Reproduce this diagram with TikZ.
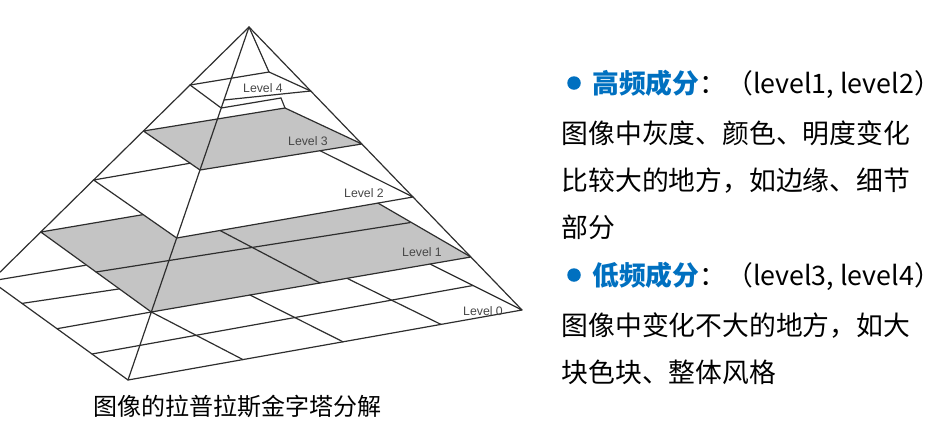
\documentclass[tikz,border=0pt]{standalone}
\usepackage{fontspec}
\setmainfont{Liberation Sans}
\newfontfamily\cjk{Noto Sans CJK SC}
\definecolor{myblue}{HTML}{0070C0}
\begin{document}
\begin{tikzpicture}[x=1pt,y=-1pt,
  edge/.style={draw=black!82, line width=1.2pt, line join=round, line cap=round},
  shaded/.style={fill=black!23},
  lvl/.style={font=\fontsize{12.3}{13}\selectfont, text=black!72, inner sep=0pt},
  body/.style={font=\cjk\fontsize{26.8}{28}\selectfont, anchor=base west, inner sep=0pt, text=black},
  dot/.style={circle, fill=myblue, minimum size=13.5pt, inner sep=0pt}]
\useasboundingbox (0,0) rectangle (940,429);
% ---------- coordinates ----------
\coordinate (A) at (249,27);
\coordinate (F) at (128,380);
\coordinate (R) at (522,310);
\coordinate (L) at (-9,281);
% level 4
\coordinate (L4) at (190.1,85);
\coordinate (B4) at (269,72);
\coordinate (R4) at (310.7,91);
\coordinate (F4) at (221.2,108);
\coordinate (E4) at (224,100);
\coordinate (K4) at (281,98);
% level 3
\coordinate (L3) at (143.4,131);
\coordinate (B3) at (285,108);
\coordinate (R3) at (361.9,144);
\coordinate (F3) at (200,170);
% level 2
\coordinate (L2) at (93.6,180);
\coordinate (F2) at (176.7,238);
\coordinate (R2) at (413,197);
\coordinate (M2a) at (190.2,163.2);
\coordinate (M2b) at (320,150.7);
% level 1
\coordinate (L1) at (40.8,232);
\coordinate (F1) at (151.3,312);
\coordinate (R1) at (470.9,257);
\coordinate (P1) at (378,203.1);
\coordinate (P2) at (143.2,214.6);
\coordinate (U1a) at (96,272);
\coordinate (U1b) at (410,222.6);
\coordinate (V1a) at (320,283);
\coordinate (V1b) at (220,230.5);
% level 0
\coordinate (Q1) at (85.3,265.3);
\coordinate (Q2) at (430.1,264);
\coordinate (Ba1) at (22,303.4);
\coordinate (Bb1) at (119.3,288.9);
\coordinate (Ba2) at (57,328.7);
\coordinate (Ba3) at (92,354);
\coordinate (Bb3) at (473,285.5);
\coordinate (Bc1) at (243,359.6);
\coordinate (Bd2) at (250,295);
\coordinate (Bc2) at (343,341.8);
\coordinate (Bd3) at (347,278.3);
\coordinate (Bc3) at (441,324.4);
% ---------- pyramid ----------
\begin{scope}
\clip (0,0) rectangle (545,429);
\fill[shaded] (L3) -- (B3) -- (R3) -- (F3) -- cycle;
\fill[shaded] (L1) -- (F1) -- (R1) -- (P1) -- (F2) -- (P2) -- cycle;
% base
\draw[edge] (Q1) -- (L) -- (F) -- (R) -- (Q2);
\draw[edge] (Ba1) -- (Bb1);
\draw[edge] (Ba2) -- (F1);
\draw[edge] (Ba3) -- (Bb3);
\draw[edge] (F1) -- (Bc1);
\draw[edge] (Bd2) -- (Bc2);
\draw[edge] (Bd3) -- (Bc3);
% level 1
\draw[edge] (P2) -- (L1) -- (F1) -- (R1) -- (P1);
\draw[edge] (U1a) -- (U1b);
\draw[edge] (V1a) -- (V1b);
% level 2
\draw[edge] (M2a) -- (L2) -- (F2) -- (R2) -- (M2b);
% level 3
\draw[edge] (L3) -- (B3) -- (R3) -- (F3) -- cycle;
% level 4
\draw[edge] (L4) -- (B4) -- (R4);
\draw[edge] (L4) -- (F4) -- (K4);
\draw[edge] (E4) -- (R4);
% edges
\draw[edge] (A) -- (B4);
\draw[edge] (K4) -- (B3);
\draw[edge] (A) -- (L);
\draw[edge] (A) -- (F);
\draw[edge] (A) -- (R);
\end{scope}
% labels
\node[lvl] (t4) at (263,88) {Level 4};
\node[lvl] (t3) at (308,141) {Level 3};
\node[lvl] (t2) at (364,193) {Level 2};
\node[lvl] (t1) at (422,252) {Level 1};
\node[lvl] (t0) at (483,311) {Level 0};
% caption
\node[font=\cjk\fontsize{24}{26}\selectfont, anchor=base, inner sep=0pt] (cap) at (237.5,415) {图像的拉普拉斯金字塔分解};
% right text
\node[dot] (d1) at (574,83) {};
\node[body] (h1) at (592,93) {{\bfseries\color{myblue}高频成分}：（level1, level2）};
\node[body] (a1) at (561.5,143.5) {图像中灰度、颜色、明度变化};
\node[body] (a2) at (561.5,190) {比较大的地方，如边缘、细节};
\node[body] (a3) at (561.5,237) {部分};
\node[dot] (d2) at (574,275) {};
\node[body] (h2) at (592,285) {{\bfseries\color{myblue}低频成分}：（level3, level4）};
\node[body] (b1) at (561.5,335) {图像中变化不大的地方，如大};
\node[body] (b2) at (561.5,382) {块色块、整体风格};
\end{tikzpicture}
\end{document}
